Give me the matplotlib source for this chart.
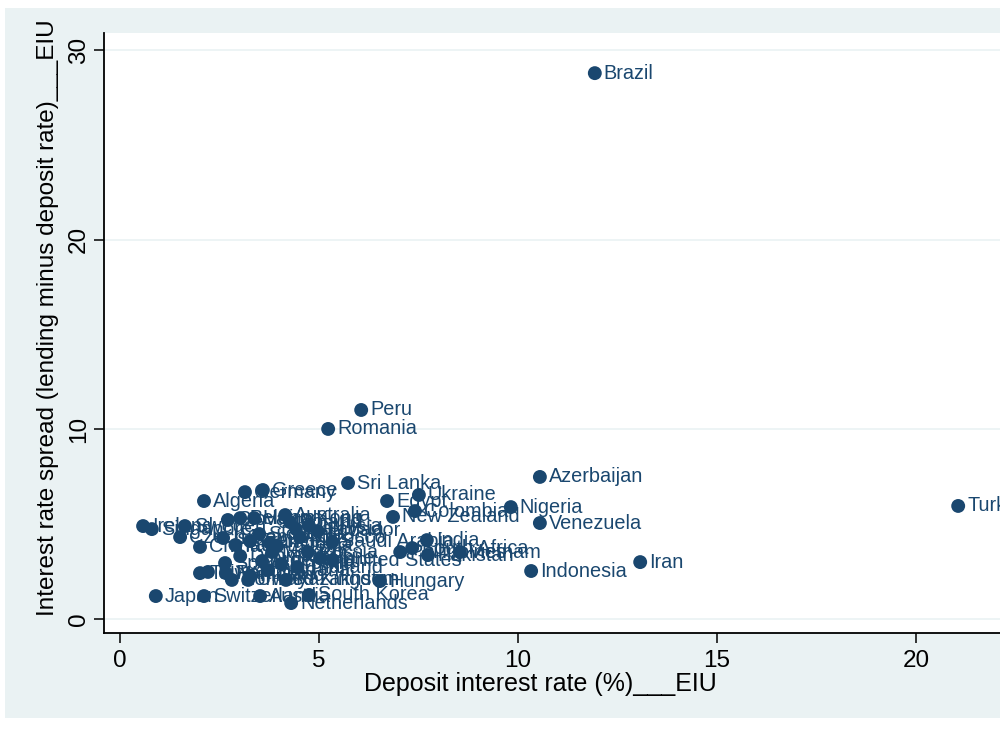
import matplotlib
matplotlib.use("Agg")
import matplotlib.pyplot as plt
from matplotlib import font_manager
from matplotlib.patches import Rectangle

# Deposit interest rate (%) and interest rate spread, by country
countries = [
    "Brazil", "Peru", "Romania", "Azerbaijan", "Sri Lanka", "Ukraine", "Egypt",
    "Colombia", "New Zealand", "Nigeria", "Venezuela", "Turkey", "Indonesia", "Iran",
    "Hungary", "India", "South Africa", "Pakistan", "Vietnam", "Philippines",
    "Saudi Arabia", "United States", "Chile", "Thailand", "United Kingdom",
    "Kazakhstan", "Netherlands", "South Korea", "Austria", "Switzerland", "Japan",
    "Germany", "Greece", "Algeria", "Ireland", "Singapore", "Sweden",
    "Czech Republic", "China", "Slovakia", "Belgium", "Hong Kong", "Australia",
    "Poland", "Malaysia", "Ecuador", "Morocco", "Tunisia", "Israel", "France",
    "Italy", "Canada", "Mexico", "Russia", "Denmark", "Spain", "Portugal",
    "Norway", "Finland", "Bulgaria", "Argentina", "Taiwan", "Kuwait",
    "Slovenia", "Estonia", "Croatia",
]
deposit_rate = [
    11.93, 6.06, 5.23, 10.55, 5.73, 7.51, 6.71,
    7.41, 6.86, 9.82, 10.55, 21.06, 10.33, 13.07,
    6.53, 7.71, 7.34, 7.74, 8.54, 7.04,
    5.33, 5.35, 5.03, 4.45, 3.22,
    4.17, 4.30, 4.75, 3.52, 2.11, 0.90,
    3.14, 3.59, 2.11, 0.58, 0.80, 1.63,
    1.51, 2.01, 2.71, 3.02, 3.37, 4.15,
    4.27, 4.42, 4.97, 4.52, 4.75, 2.59, 3.27,
    2.90, 3.77, 3.82, 4.72, 3.02, 2.64, 2.66,
    2.81, 3.27, 3.72, 3.57, 2.01, 2.21,
    3.50, 3.95, 4.05,
]
spread = [
    28.78, 11.02, 10.02, 7.49, 7.17, 6.54, 6.22,
    5.69, 5.38, 5.90, 5.06, 5.96, 2.53, 3.00,
    2.00, 4.16, 3.74, 3.37, 3.53, 3.53,
    4.06, 3.11, 3.20, 2.74, 2.06,
    2.06, 0.84, 1.27, 1.21, 1.21, 1.21,
    6.69, 6.80, 6.22, 4.90, 4.74, 4.90,
    4.32, 3.80, 5.22, 5.32, 5.32, 5.48,
    5.11, 4.74, 4.64, 4.32, 4.90, 4.27, 4.11,
    3.90, 4.01, 3.53, 3.53, 3.32, 2.95, 2.42,
    2.06, 2.27, 2.58, 3.06, 2.42, 2.48,
    4.48, 3.85, 2.90,
]

x_ticks = [0, 5, 10, 15, 20]
y_ticks = [0, 10, 20, 30]
x_title = "Deposit interest rate (%)___EIU"
y_title = "Interest rate spread (lending minus deposit rate)___EIU"

navy = "#1a476f"
panel = "#eaf2f3"

available = {f.name for f in font_manager.fontManager.ttflist}
if "Liberation Sans Narrow" in available:
    axis_font, tick_size, title_size = "Liberation Sans Narrow", 20, 21
else:
    axis_font, tick_size, title_size = "Liberation Sans", 17.5, 18
label_font = "Liberation Sans"

W, H = 1000, 731
fig = plt.figure(figsize=(W / 100, H / 100), dpi=100)
fig.patch.set_facecolor("white")
fig.add_artist(Rectangle((5 / W, 13 / H), 1.0, (718 - 8) / H,
                         transform=fig.transFigure, facecolor=panel,
                         edgecolor="none", zorder=-10))

# axes box in pixels: left 104, top 33, bottom 633, width runs past the right edge
ax = fig.add_axes([104 / W, (H - 633) / H, 920 / W, 600 / H])
ax.set_zorder(1)
ax.set_facecolor("white")
px_per_x = 39.8
px_per_y = 18.967
ax.set_xlim(-16 / px_per_x, -16 / px_per_x + 920 / px_per_x)
ax.set_ylim(-14 / px_per_y, 30 + 17 / px_per_y)

for s in ("top", "right"):
    ax.spines[s].set_visible(False)
for s in ("left", "bottom"):
    ax.spines[s].set_color("black")
    ax.spines[s].set_linewidth(1.3)

ax.set_yticks(y_ticks)
ax.set_xticks(x_ticks)
ax.yaxis.grid(True, color=panel, linewidth=1.2)
ax.set_axisbelow(True)
ax.tick_params(axis="both", direction="out", length=7, width=1.1, color="black",
               labelsize=tick_size)
ax.tick_params(axis="x", pad=5)
ax.tick_params(axis="y", pad=3)
for t in ax.get_xticklabels():
    t.set_fontfamily(axis_font)
for t in ax.get_yticklabels():
    t.set_fontfamily(axis_font)
    t.set_rotation(90)
    t.set_va("center")

# axis titles centred on the visible plot region
fig.text(540 / W, 1 - 684 / H, x_title, ha="center", va="center",
         fontfamily=axis_font, fontsize=title_size)
fig.text(48 / W, 1 - 318 / H, y_title, ha="center", va="center", rotation=90,
         fontfamily=axis_font, fontsize=title_size - 0.5)

ax.scatter(deposit_rate, spread, s=100, color=navy, edgecolors="none", zorder=3,
           clip_on=False)
for name, xv, yv in zip(countries, deposit_rate, spread):
    ax.annotate(name, (xv, yv), xytext=(6.5, 0), textcoords="offset points",
                ha="left", va="center", fontsize=14.3, color=navy,
                fontfamily=label_font, zorder=4, annotation_clip=False)

fig.savefig("out.png", dpi=100)
